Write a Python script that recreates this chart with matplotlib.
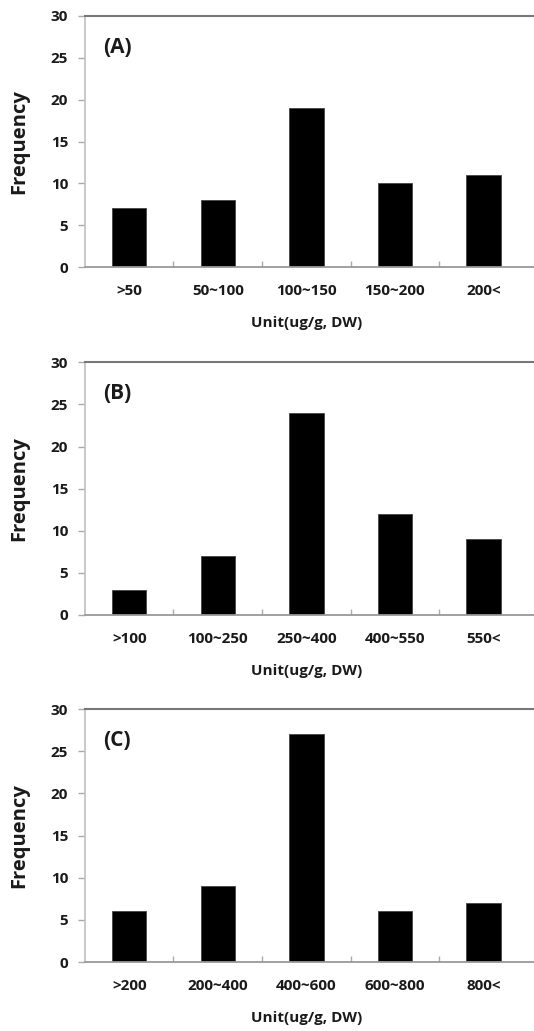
import numpy as np
import matplotlib
matplotlib.use("Agg")
import matplotlib.pyplot as plt

plt.rcParams["font.family"] = ["Open Sans", "Liberation Sans", "DejaVu Sans"]

# Frequency counts
panel_names = ["(A)", "(B)", "(C)"]
labels_a = [">50", "50~100", "100~150", "150~200", "200<"]
labels_b = [">100", "100~250", "250~400", "400~550", "550<"]
labels_c = [">200", "200~400", "400~600", "600~800", "800<"]
freq_a = [7, 8, 19, 10, 11]
freq_b = [3, 7, 24, 12, 9]
freq_c = [6, 9, 27, 6, 7]

panels = [
    (labels_a, freq_a),
    (labels_b, freq_b),
    (labels_c, freq_c),
]

fig = plt.figure(figsize=(5.34, 10.31), dpi=100)

# axes rectangles in figure fraction (left, bottom, width, height)
rects = [
    (0.159, 0.741, 0.841, 0.2435),
    (0.159, 0.4035, 0.841, 0.245),
    (0.159, 0.0669, 0.841, 0.2454),
]

text_col = "#1a1a1a"

for name, (labels, freq), rect in zip(panel_names, panels, rects):
    ax = fig.add_axes(rect)
    x = np.arange(len(labels))
    ax.bar(x, freq, width=0.39, color="black", edgecolor="#444444", linewidth=0.6)

    ax.set_xlim(-0.5, 4.57)
    ax.set_ylim(0, 30)
    ax.set_xticks(x)
    ax.set_xticklabels(labels, fontweight="bold")
    ax.set_yticks(np.arange(0, 31, 5))
    ax.set_yticklabels([str(v) for v in range(0, 31, 5)], fontweight="bold")
    ax.set_xticks(np.arange(0.5, 4.0, 1.0), minor=True)

    ax.tick_params(axis="x", which="major", length=0, pad=12,
                   labelsize=11, labelcolor=text_col)
    ax.tick_params(axis="x", which="minor", direction="in", length=4,
                   color="#aaaaaa", width=1)
    ax.tick_params(axis="y", direction="out", length=5, width=1,
                   color="#aaaaaa", pad=7, labelsize=11, labelcolor=text_col)

    ax.spines["right"].set_visible(False)
    ax.spines["left"].set_color("#c0c0c0")
    ax.spines["left"].set_linewidth(1.2)
    ax.spines["bottom"].set_color("#999999")
    ax.spines["bottom"].set_linewidth(1.3)
    ax.spines["top"].set_color("#777777")
    ax.spines["top"].set_linewidth(1.5)

    ax.set_ylabel("Frequency", fontsize=14.5, fontweight="bold",
                  color=text_col)
    ax.yaxis.set_label_coords(-0.125, 0.5)
    ax.set_xlabel("Unit(ug/g, DW)", fontsize=11, fontweight="bold",
                  color=text_col)
    ax.xaxis.set_label_coords(2.5 / 5.07, -0.195)

    ax.text(0.04, 0.875, name, transform=ax.transAxes, fontsize=15,
            fontweight="bold", color=text_col, va="center", ha="left")

fig.savefig("out.png", dpi=100)
